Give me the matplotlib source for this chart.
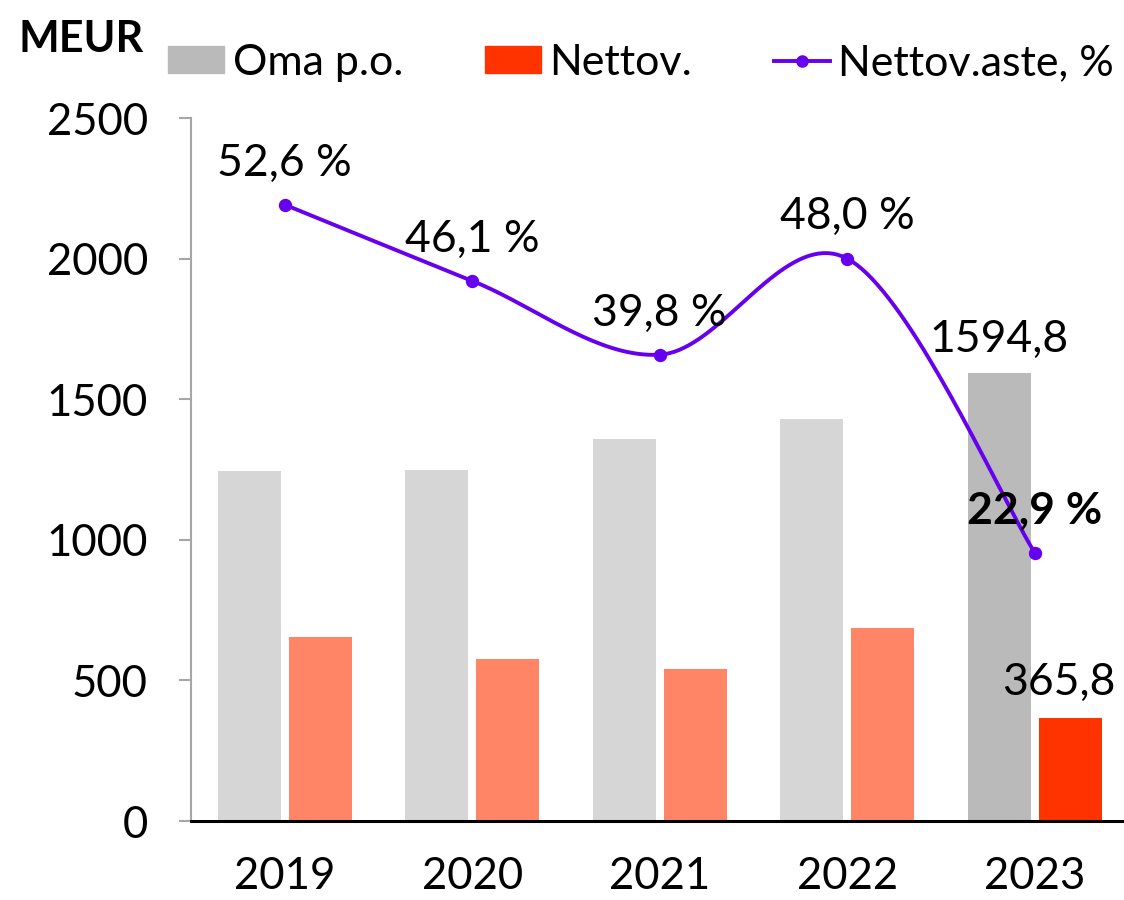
import numpy as np
import matplotlib
matplotlib.use("Agg")
import matplotlib.pyplot as plt
from matplotlib.patches import Patch
from matplotlib.lines import Line2D

plt.rcParams['font.family'] = ['Lato', 'DejaVu Sans']

# data
years = ["2019", "2020", "2021", "2022", "2023"]
oma_po = [1245, 1248, 1358, 1430, 1594.8]
nettov = [654, 576, 540, 686, 365.8]
nettov_aste = [52.6, 46.1, 39.8, 48.0, 22.9]
aste_labels = ["52,6 %", "46,1 %", "39,8 %", "48,0 %", "22,9 %"]

grey_light, grey_dark = "#D6D6D6", "#BABABA"
red_light, red_dark = "#FF8566", "#FF3300"
purple = "#6600EE"


def smooth(xs, ys, n=40):
    # Catmull-Rom curve through the points (like Excel's smoothed line)
    pts = np.column_stack([xs, ys]).astype(float)
    p = np.vstack([pts[0], pts, pts[-1]])
    out = []
    t = np.linspace(0, 1, n)[:, None]
    for i in range(1, len(p) - 2):
        p0, p1, p2, p3 = p[i - 1], p[i], p[i + 1], p[i + 2]
        c1 = p1 + (p2 - p0) / 6
        c2 = p2 - (p3 - p1) / 6
        seg = ((1 - t) ** 3 * p1 + 3 * (1 - t) ** 2 * t * c1
               + 3 * (1 - t) * t ** 2 * c2 + t ** 3 * p2)
        out.append(seg if i == 1 else seg[1:])
    out = np.vstack(out)
    return out[:, 0], out[:, 1]


fig = plt.figure(figsize=(11.24, 9), dpi=100)
ax = fig.add_axes([191 / 1124, 1 - 821 / 900, 937.5 / 1124, 703 / 900])

x = np.arange(len(years))
w = 0.336
off = 0.19
grey_cols = [grey_light] * 4 + [grey_dark]
red_cols = [red_light] * 4 + [red_dark]
ax.bar(x - off, oma_po, w, color=grey_cols, zorder=2)
ax.bar(x + off, nettov, w, color=red_cols, zorder=2)

ax.set_xlim(-0.5, 4.5)
ax.set_ylim(0, 2500)
ax.set_yticks([0, 500, 1000, 1500, 2000, 2500])
ax.set_xticks(x)
ax.set_xticklabels(years)
ax.tick_params(axis='y', direction='out', length=9, width=1.5, color='#A6A6A6',
               labelsize=31.5, pad=22)
ax.tick_params(axis='x', length=0, labelsize=31.5, pad=25)
for s in ['top', 'right']:
    ax.spines[s].set_visible(False)
ax.spines['left'].set_color('#A6A6A6')
ax.spines['left'].set_linewidth(1.5)
ax.spines['bottom'].set_color('black')
ax.spines['bottom'].set_linewidth(2.2)

# value labels for 2023 bars
ax.annotate("1594,8", (x[4] - off, oma_po[4]), xytext=(0, 15), textcoords='offset points',
            ha='center', va='baseline', fontsize=32)
ax.annotate("365,8", (x[4] + off - 0.06, nettov[4]), xytext=(0, 17), textcoords='offset points',
            ha='center', va='baseline', fontsize=32)

ax2 = ax.twinx()
ax2.set_ylim(0, 60)
ax2.axis('off')
sx, sy = smooth(x, nettov_aste)
ax2.plot(sx, sy, color=purple, lw=2.8, zorder=3)
ax2.plot(x, nettov_aste, 'o', color=purple, ms=8.6, zorder=4)
for i, (v, lab) in enumerate(zip(nettov_aste, aste_labels)):
    ax2.annotate(lab, (x[i], v), xytext=(0, 21), textcoords='offset points',
                 ha='center', va='baseline', fontsize=32,
                 fontweight='bold' if i == 4 else 'normal')

fig.text(18 / 1124, 1 - 52 / 900, "MEUR", fontsize=31, fontweight='bold', va='baseline')

handles = [Patch(color=grey_dark), Patch(color=red_dark),
           Line2D([], [], color=purple, lw=2.8, marker='o', ms=8)]
fig.legend(handles, ["Oma p.o.", "Nettov.", "Nettov.aste, %"], ncol=3, frameon=False,
           loc='lower left', bbox_to_anchor=(168 / 1124, 1 - 82 / 900),
           borderaxespad=0, borderpad=0, fontsize=31, handlelength=1.3,
           handleheight=0.6, handletextpad=0.2, columnspacing=1.9)

fig.savefig("out.png", dpi=100)
